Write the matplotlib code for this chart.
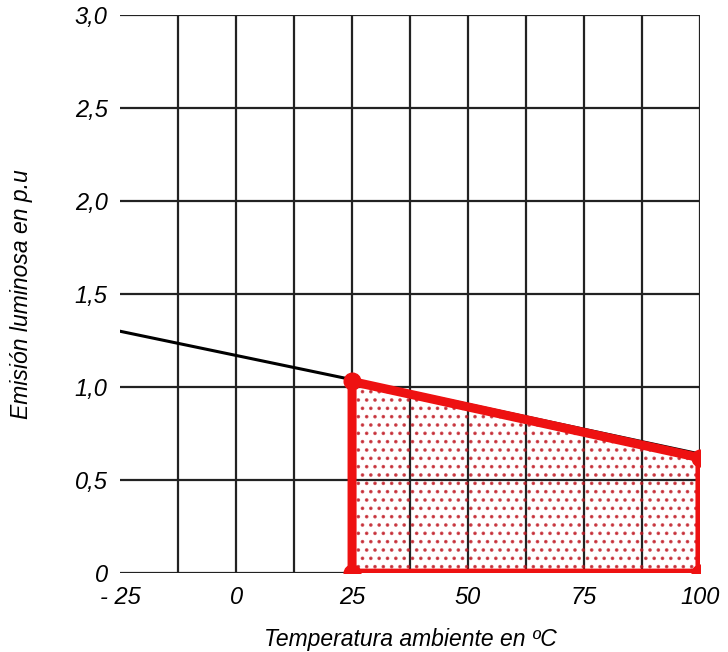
import matplotlib.pyplot as plt
import numpy as np

# curva de emision luminosa (linea negra)
temp_line = [-25, 25, 100]
emision_line = [1.30, 1.04, 0.64]

# zona de trabajo (poligono rojo)
zona_temp = [25, 25, 100, 100]
zona_emision = [0, 1.03, 0.62, 0]

x_ticks = [-25, 0, 25, 50, 75, 100]
x_labels = ['- 25', '0', '25', '50', '75', '100']
y_ticks = [0, 0.5, 1.0, 1.5, 2.0, 2.5, 3.0]
y_labels = ['0', '0,5', '1,0', '1,5', '2,0', '2,5', '3,0']

plt.rcParams['font.family'] = ['Liberation Sans', 'DejaVu Sans']
plt.rcParams['hatch.color'] = '#c01822'
plt.rcParams['hatch.linewidth'] = 1.4

fig = plt.figure(figsize=(7.28, 6.52), dpi=100)
ax = fig.add_axes([0.165, 0.121, 0.7965, 0.856])

grid_c = '#222222'
for gx in np.arange(-12.5, 100.1, 12.5):
    ax.axvline(gx, color=grid_c, lw=1.6, zorder=1)
for gy in y_ticks:
    ax.axhline(gy, color=grid_c, lw=1.6, zorder=1)

ax.plot(temp_line, emision_line, color='black', lw=2.2, zorder=3)

ax.fill(zona_temp, zona_emision, facecolor='none', edgecolor='#c01822',
        lw=0, hatch='..', alpha=0.75, zorder=2)
ax.plot(zona_temp + [zona_temp[0]], zona_emision + [zona_emision[0]],
        color='#ee1111', lw=6.5, solid_joinstyle='round', zorder=4)
ax.plot(zona_temp, zona_emision, 'o', color='#ee1111', ms=12, zorder=5)

ax.set_xlim(-25, 100)
ax.set_ylim(0, 3.0)
ax.set_xticks(x_ticks)
ax.set_xticklabels(x_labels, style='italic', fontsize=17)
ax.set_yticks(y_ticks)
ax.set_yticklabels(y_labels, style='italic', fontsize=17)
ax.tick_params(length=0, pad=9)
for s in ax.spines.values():
    s.set_visible(False)

ax.set_xlabel('Temperatura ambiente en ºC', style='italic', fontsize=16.5, labelpad=14)
ax.set_ylabel('Emisión luminosa en p.u', style='italic', fontsize=16.5, labelpad=30)

fig.savefig('out.png', dpi=100)
